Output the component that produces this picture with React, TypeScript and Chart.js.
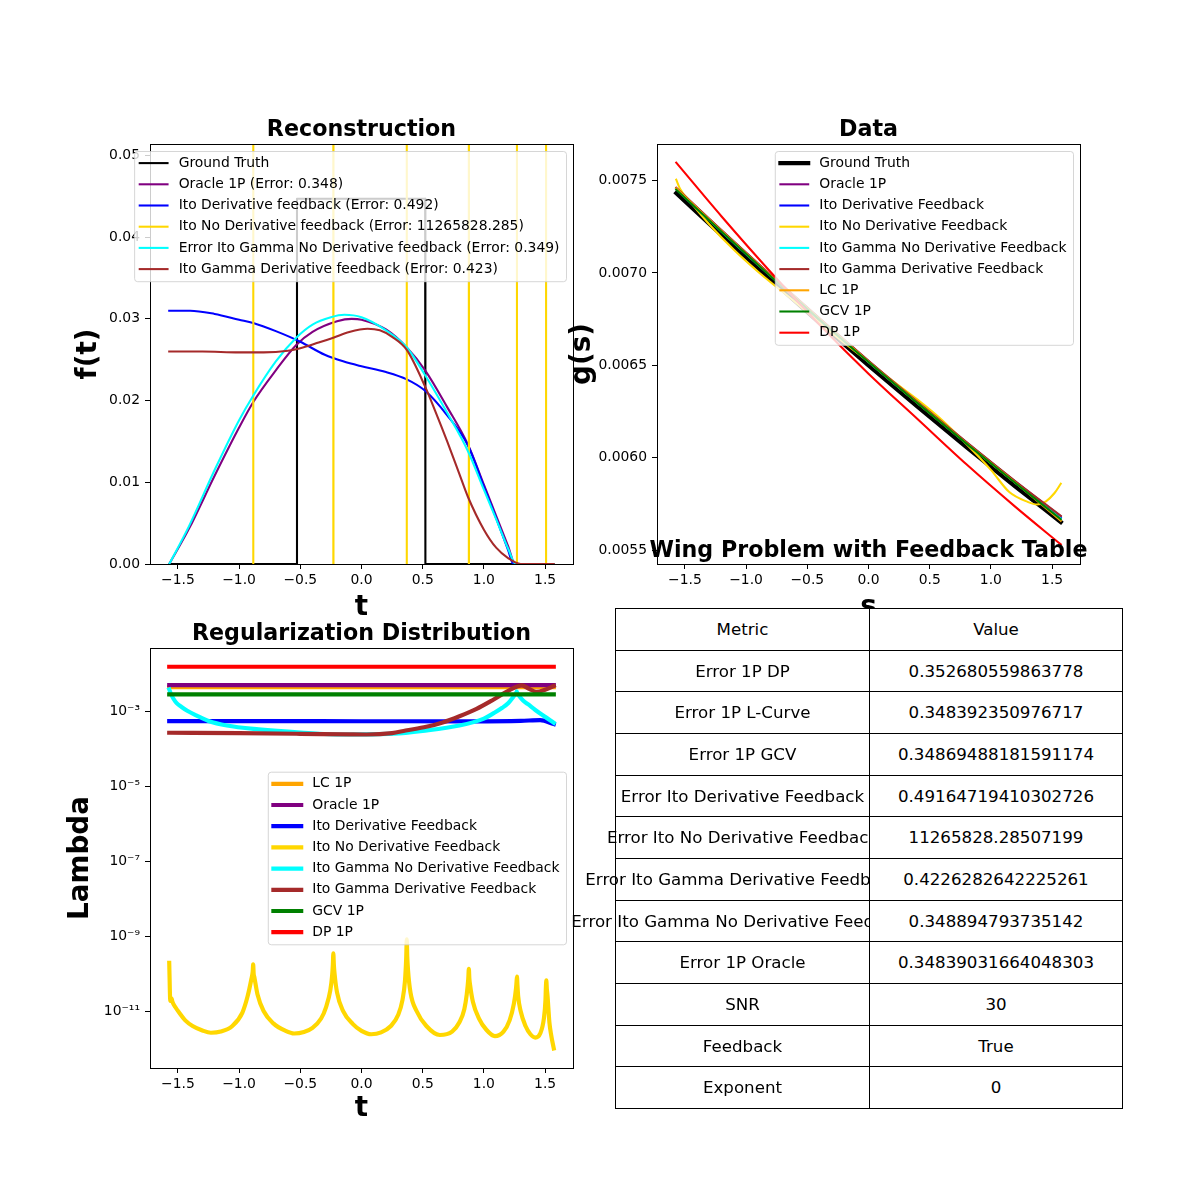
import React, { useEffect, useRef } from "react";
import { Chart, registerables } from "chart.js";

Chart.register(...registerables);

const FONT = "'DejaVu Sans', 'Liberation Sans', sans-serif";
Chart.defaults.font.family = FONT;

// ===================== Reconstruction f(t) =====================
const truthT = [-1.5708, -0.529, -0.527, 0.52, 0.522, 1.5708];
const truthF = [0, 0, 0.0447, 0.0447, 0, 0];

const oracleT = [-1.5708, -1.41, -1.2, -1.0, -0.885, -0.7, -0.533, -0.4, -0.2, -0.08, 0.0, 0.2, 0.37, 0.52, 0.7, 0.87, 1.0, 1.1, 1.2, 1.254, 1.35, 1.5708];
const oracleF = [0, 0.0043, 0.0108, 0.0167, 0.0198, 0.0237, 0.0268, 0.0284, 0.0297, 0.03, 0.0299, 0.0287, 0.0265, 0.0237, 0.0192, 0.0146, 0.0097, 0.0059, 0.0021, 0, 0, 0];

const itoDerivT = [-1.5708, -1.4, -1.2, -1.0, -0.885, -0.7, -0.5, -0.3, -0.15, 0.0, 0.2, 0.37, 0.52, 0.7, 0.87, 1.0, 1.1, 1.2, 1.24, 1.35, 1.5708];
const itoDerivF = [0.031, 0.031, 0.0306, 0.0299, 0.0295, 0.0285, 0.0272, 0.0256, 0.0248, 0.0242, 0.0235, 0.0226, 0.0212, 0.0182, 0.0145, 0.0095, 0.0056, 0.0016, 0, 0, 0];

const itoNoDerivT = [-1.5708, -0.886, -0.884, -0.231, -0.229, 0.368, 0.37, 0.876, 0.878, 1.269, 1.271, 1.507, 1.509, 1.5708];
const itoNoDerivF = [-1, -1, 1, 1, -1, -1, 1, 1, -1, -1, 1, 1, -1, -1];

const gammaNoDerivT = [-1.5708, -1.41, -1.2, -1.0, -0.885, -0.7, -0.533, -0.4, -0.25, -0.14, 0.0, 0.2, 0.37, 0.52, 0.7, 0.87, 1.0, 1.1, 1.2, 1.26, 1.35, 1.5708];
const gammaNoDerivF = [0, 0.0046, 0.0115, 0.0176, 0.0206, 0.0248, 0.0277, 0.0293, 0.0302, 0.0305, 0.0302, 0.0286, 0.0265, 0.0231, 0.0185, 0.0138, 0.0091, 0.0055, 0.0018, 0, 0, 0];

const gammaDerivT = [-1.5708, -1.3, -1.0, -0.8, -0.6, -0.5, -0.35, -0.23, -0.1, 0.05, 0.15, 0.25, 0.37, 0.52, 0.6, 0.7, 0.8, 0.87, 1.0, 1.1, 1.2, 1.3, 1.5708];
const gammaDerivF = [0.026, 0.026, 0.0259, 0.0259, 0.0261, 0.0264, 0.0271, 0.0277, 0.0284, 0.0288, 0.0286, 0.0278, 0.0262, 0.0217, 0.0188, 0.015, 0.011, 0.0082, 0.0042, 0.002, 0.0007, 0, 0];

// ===================== Data g(s) =====================
const dataS = [-1.5708, -1.2, -0.8, -0.4, 0, 0.4, 0.8, 1.2, 1.5708];
const truthG = [0.007431, 0.007204, 0.006964, 0.006729, 0.0065, 0.006277, 0.006058, 0.005845, 0.005653];
const oracleG = [0.007458, 0.007229, 0.006988, 0.006753, 0.006524, 0.006302, 0.006084, 0.005872, 0.005684];
const itoDerivG = [0.007455, 0.007226, 0.006985, 0.00675, 0.006521, 0.006299, 0.00608, 0.005868, 0.005676];
const gammaNoDerivG = [0.007452, 0.007223, 0.006983, 0.006748, 0.006519, 0.006297, 0.006078, 0.005866, 0.005672];
const gammaDerivG = [0.00746, 0.00723, 0.006989, 0.006754, 0.006525, 0.006303, 0.006085, 0.005873, 0.005686];
const lcG = [0.007456, 0.007226, 0.006985, 0.00675, 0.00652, 0.006297, 0.006078, 0.005865, 0.00566];
const gcvG = [0.00745, 0.007222, 0.006982, 0.006747, 0.006518, 0.006296, 0.006077, 0.005864, 0.005668];
const dpG = [0.007596, 0.007305, 0.007005, 0.00672, 0.006455, 0.00621, 0.005965, 0.005735, 0.005532];
const noDerivS = [-1.5708, -1.54, -1.45, -1.3, -1.1, -0.9, -0.6, -0.3, 0, 0.2, 0.4, 0.6, 0.8, 1.0, 1.15, 1.3, 1.375, 1.45, 1.52, 1.5708];
const noDerivG = [0.007504, 0.007455, 0.00738, 0.007262, 0.007125, 0.007005, 0.006843, 0.006675, 0.00652, 0.006415, 0.006315, 0.006205, 0.006075, 0.005935, 0.005815, 0.005762, 0.005748, 0.005765, 0.00581, 0.00586];

// ===================== Regularization lambda(t) =====================
const lambdaEndsT = [-1.5708, 1.5708];
const lcLambda = [0.00457, 0.00457];
const oracleLambda = [0.00518, 0.00518];
const gcvLambda = [0.00292, 0.00292];
const dpLambda = [0.016, 0.016];
const itoDerivLambdaT = [-1.5708, -1.0, 0.0, 0.9, 1.3, 1.46, 1.5708];
const itoDerivLambda = [0.000564, 0.000564, 0.00056, 0.000555, 0.00057, 0.0006, 0.00047];
const gammaDerivLambdaT = [-1.5708, -1.0, -0.5, -0.1, 0.04, 0.25, 0.36, 0.53, 0.67, 0.8, 0.94, 1.08, 1.21, 1.31, 1.37, 1.43, 1.5, 1.5708];
const gammaDerivLambda = [0.000275, 0.000268, 0.000258, 0.000249, 0.000247, 0.00027, 0.000316, 0.000397, 0.000527, 0.00076, 0.0012, 0.00214, 0.0038, 0.0051, 0.0041, 0.0034, 0.0039, 0.0049];
const gammaNoDerivLambdaT = [-1.5708, -1.555, -1.535, -1.51, -1.47, -1.42, -1.35, -1.25, -1.1, -0.84, -0.5, -0.15, 0.26, 0.5, 0.8, 1.0, 1.08, 1.15, 1.2, 1.24, 1.262, 1.268, 1.274, 1.29, 1.32, 1.36, 1.42, 1.49, 1.5708];
const gammaNoDerivLambda = [0.00398, 0.0029, 0.0022, 0.0017, 0.00135, 0.00105, 0.0008, 0.00057, 0.00043, 0.00034, 0.00028, 0.000247, 0.00026, 0.00031, 0.00043, 0.00066, 0.00092, 0.00128, 0.00172, 0.0025, 0.0031, 0.0035, 0.0031, 0.0026, 0.002, 0.0016, 0.00112, 0.00077, 0.00051];
const noDerivLambdaT = [
  -1.5708, -1.562, -1.552, -1.545, -1.52, -1.49, -1.44, -1.38, -1.3, -1.23, -1.15, -1.055, -0.973, -0.93, -0.9, -0.889, -0.885,
  -0.881, -0.875, -0.85, -0.8, -0.72, -0.62, -0.55, -0.47, -0.4, -0.33, -0.29, -0.255, -0.24, -0.234, -0.23,
  -0.226, -0.22, -0.2, -0.15, -0.07, 0.0, 0.08, 0.16, 0.24, 0.3, 0.335, 0.355, 0.365, 0.37,
  0.374, 0.38, 0.4, 0.45, 0.53, 0.64, 0.74, 0.8, 0.84, 0.86, 0.872, 0.877,
  0.881, 0.887, 0.91, 0.96, 1.02, 1.09, 1.16, 1.21, 1.245, 1.262, 1.266, 1.27,
  1.274, 1.28, 1.3, 1.34, 1.38, 1.42, 1.46, 1.49, 1.503, 1.506, 1.51,
  1.514, 1.52, 1.535, 1.55, 1.5708,
];
const noDerivLambda = [
  1.95e-10, 1.86e-11, 2.19e-11, 1.78e-11, 1.26e-11, 9.12e-12, 5.62e-12, 3.98e-12, 3.02e-12, 2.63e-12, 2.82e-12, 3.98e-12, 9.12e-12, 2.51e-11, 7.08e-11, 1.12e-10, 1.78e-10,
  1.0e-10, 7.94e-11, 2.82e-11, 1.0e-11, 4.68e-12, 2.95e-12, 2.51e-12, 2.75e-12, 3.55e-12, 6.31e-12, 1.26e-11, 3.55e-11, 8.91e-11, 1.78e-10, 3.47e-10,
  1.78e-10, 1.0e-10, 3.16e-11, 1.0e-11, 4.47e-12, 2.95e-12, 2.4e-12, 2.69e-12, 3.98e-12, 7.94e-12, 2.0e-11, 6.31e-11, 2.51e-10, 8.32e-10,
  2.82e-10, 1.26e-10, 3.16e-11, 1.0e-11, 3.98e-12, 2.29e-12, 2.82e-12, 5.01e-12, 1.12e-11, 2.82e-11, 7.08e-11, 1.35e-10,
  7.59e-11, 5.01e-11, 1.78e-11, 6.31e-12, 3.16e-12, 2.14e-12, 2.82e-12, 5.62e-12, 1.58e-11, 3.98e-11, 5.62e-11, 8.32e-11,
  5.01e-11, 2.51e-11, 1.0e-11, 3.98e-12, 2.4e-12, 1.95e-12, 2.51e-12, 6.31e-12, 2.0e-11, 3.98e-11, 6.61e-11,
  3.98e-11, 2.51e-11, 5.01e-12, 2.24e-12, 1.0e-12,
];

// ===================== Ticks =====================
const xTicks = [-1.5, -1, -0.5, 0, 0.5, 1, 1.5];
const reconYTicks = [0, 0.01, 0.02, 0.03, 0.04, 0.05];
const dataYTicks = [0.0055, 0.006, 0.0065, 0.007, 0.0075];
const lambdaYTicks = [1e-11, 1e-9, 1e-7, 1e-5, 1e-3];

// ===================== Table =====================
const metricNames = [
  "Error 1P DP",
  "Error 1P L-Curve",
  "Error 1P GCV",
  "Error Ito Derivative Feedback",
  "Error Ito No Derivative Feedback",
  "Error Ito Gamma Derivative Feedback",
  "Error Ito Gamma No Derivative Feedback",
  "Error 1P Oracle",
  "SNR",
  "Feedback",
  "Exponent",
];
const metricValues = [
  "0.352680559863778",
  "0.348392350976717",
  "0.34869488181591174",
  "0.49164719410302726",
  "11265828.28507199",
  "0.4226282642225261",
  "0.348894793735142",
  "0.34839031664048303",
  "30",
  "True",
  "0",
];

// ===================== Helpers =====================
const C = {
  black: "#000000",
  purple: "#800080",
  blue: "#0000ff",
  gold: "#ffd700",
  cyan: "#00ffff",
  brown: "#a52a2a",
  orange: "#ffa500",
  green: "#008000",
  red: "#ff0000",
};
const LW1 = 2.08;
const LW3 = 4.17;

function line(label: string, xs: number[], ys: number[], color: string, width: number, smooth = true): any {
  return {
    label,
    data: xs.map((x, i) => ({ x, y: ys[i] })),
    borderColor: color,
    backgroundColor: color,
    borderWidth: width,
    pointRadius: 0,
    pointHoverRadius: 0,
    fill: false,
    tension: 0,
    cubicInterpolationMode: smooth ? "monotone" : "default",
    borderCapStyle: "square",
    borderJoinStyle: "round",
  };
}

function stack(ds: any[]) {
  return ds.map((d, i) => ({ ...d, order: ds.length - i }));
}

const minus = (s: string) => s.replace("-", "\u2212");
const fmtX = (v: number) => minus(v.toFixed(1));
const SUP: Record<string, string> = { "-": "\u207B", "0": "\u2070", "1": "\u00B9", "2": "\u00B2", "3": "\u00B3", "4": "\u2074", "5": "\u2075", "6": "\u2076", "7": "\u2077", "8": "\u2078", "9": "\u2079" };
const fmtLog = (v: number) => "10" + String(Math.round(Math.log10(v))).split("").map((c) => SUP[c]).join("");

function axis(o: {
  type?: string;
  horizontal: boolean;
  min: number;
  max: number;
  ticks: number[];
  fmt: (v: number) => string;
  title: string;
  fit: number;
  titlePad: number;
  labelPad: number;
}): any {
  return {
    type: o.type ?? "linear",
    position: o.horizontal ? "bottom" : "left",
    min: o.min,
    max: o.max,
    afterBuildTicks: (s: any) => {
      s.ticks = o.ticks.map((v) => ({ value: v }));
    },
    afterFit: (s: any) => {
      if (o.horizontal) s.height = o.fit;
      else s.width = o.fit;
    },
    ticks: {
      color: "#000",
      font: { family: FONT, size: 13.9 },
      padding: o.labelPad,
      maxRotation: 0,
      minRotation: 0,
      autoSkip: false,
      callback: (v: any) => o.fmt(Number(v)),
    },
    grid: { display: true, drawOnChartArea: false, drawTicks: true, tickLength: 5, color: "#000", lineWidth: 1 },
    border: { display: false },
    title: {
      display: true,
      text: o.title,
      color: "#000",
      font: { family: FONT, size: 27.8, weight: "bold", lineHeight: 1 },
      padding: o.horizontal ? { top: 0, bottom: o.titlePad } : { top: o.titlePad, bottom: 0 },
    },
  };
}

function decor(title: string, anchor: "upper" | "center"): any {
  return {
    id: "decor",
    afterDatasetsDraw(chart: any) {
      const { ctx, chartArea: a } = chart;
      ctx.save();
      ctx.strokeStyle = "#000";
      ctx.lineWidth = 1;
      ctx.strokeRect(a.left + 0.5, a.top + 0.5, a.right - a.left, a.bottom - a.top);
      ctx.restore();
    },
    afterDraw(chart: any) {
      const { ctx, chartArea: a } = chart;
      ctx.save();
      // title
      ctx.font = `bold 22.2px ${FONT}`;
      ctx.fillStyle = "#000";
      ctx.textAlign = "center";
      ctx.textBaseline = "alphabetic";
      ctx.fillText(title, (a.left + a.right) / 2, a.top - 8);
      // legend
      const items = chart.data.datasets.map((d: any) => ({ label: d.label, color: d.borderColor, width: d.borderWidth }));
      ctx.font = `13.9px ${FONT}`;
      const maxW = Math.max(...items.map((i: any) => ctx.measureText(i.label).width));
      const w = maxW + 51;
      const h = items.length * 21.2 + 3;
      const right = a.right - 7;
      const left = right - w;
      const top = anchor === "upper" ? a.top + 7 : (a.top + a.bottom) / 2 - h / 2;
      ctx.beginPath();
      if ((ctx as any).roundRect) (ctx as any).roundRect(left + 0.5, top + 0.5, w, h, 3);
      else ctx.rect(left + 0.5, top + 0.5, w, h);
      ctx.fillStyle = "rgba(255,255,255,0.8)";
      ctx.fill();
      ctx.strokeStyle = "rgba(204,204,204,0.8)";
      ctx.lineWidth = 1;
      ctx.stroke();
      items.forEach((it: any, i: number) => {
        const cy = top + 12.1 + 21.2 * i;
        ctx.strokeStyle = it.color;
        ctx.lineWidth = it.width;
        ctx.lineCap = "square";
        ctx.beginPath();
        ctx.moveTo(left + 5.6, cy);
        ctx.lineTo(left + 33.4, cy);
        ctx.stroke();
        ctx.fillStyle = "#000";
        ctx.textAlign = "left";
        ctx.textBaseline = "middle";
        ctx.fillText(it.label, left + 44.5, cy);
      });
      ctx.restore();
    },
  };
}

function baseOptions(padding: any, x: any, y: any): any {
  return {
    responsive: false,
    animation: false,
    devicePixelRatio: 1,
    events: [],
    layout: { padding },
    plugins: { legend: { display: false }, tooltip: { enabled: false }, title: { display: false } },
    scales: { x, y },
  };
}

const XR = 1.7279;

function reconConfig(): any {
  return {
    type: "line",
    data: {
      datasets: stack([
        line("Ground Truth", truthT, truthF, C.black, LW1, false),
        line("Oracle 1P (Error: 0.348)", oracleT, oracleF, C.purple, LW1),
        line("Ito Derivative feedback (Error: 0.492)", itoDerivT, itoDerivF, C.blue, LW1),
        line("Ito No Derivative feedback (Error: 11265828.285)", itoNoDerivT, itoNoDerivF, C.gold, LW1, false),
        line("Error Ito Gamma No Derivative feedback (Error: 0.349)", gammaNoDerivT, gammaNoDerivF, C.cyan, LW1),
        line("Ito Gamma Derivative feedback (Error: 0.423)", gammaDerivT, gammaDerivF, C.brown, LW1),
      ]),
    },
    options: baseOptions(
      { top: 44, right: 17, left: 0, bottom: 0 },
      axis({ horizontal: true, min: -XR, max: XR, ticks: xTicks, fmt: fmtX, title: "t", fit: 66, titlePad: 8, labelPad: 2.7 }),
      axis({ horizontal: false, min: 0, max: 0.0514, ticks: reconYTicks, fmt: (v) => v.toFixed(2), title: "f(t)", fit: 90, titlePad: 15.1, labelPad: 5 })
    ),
    plugins: [decor("Reconstruction", "upper")],
  };
}

function dataConfig(): any {
  return {
    type: "line",
    data: {
      datasets: stack([
        line("Ground Truth", dataS, truthG, C.black, LW3),
        line("Oracle 1P", dataS, oracleG, C.purple, LW1),
        line("Ito Derivative Feedback", dataS, itoDerivG, C.blue, LW1),
        line("Ito No Derivative Feedback", noDerivS, noDerivG, C.gold, LW1),
        line("Ito Gamma No Derivative Feedback", dataS, gammaNoDerivG, C.cyan, LW1),
        line("Ito Gamma Derivative Feedback", dataS, gammaDerivG, C.brown, LW1),
        line("LC 1P", dataS, lcG, C.orange, LW1),
        line("GCV 1P", dataS, gcvG, C.green, LW1),
        line("DP 1P", dataS, dpG, C.red, LW1),
      ]),
    },
    options: baseOptions(
      { top: 44, right: 40, left: 0, bottom: 0 },
      axis({ horizontal: true, min: -XR, max: XR, ticks: xTicks, fmt: fmtX, title: "s", fit: 66, titlePad: 8, labelPad: 2.7 }),
      axis({ horizontal: false, min: 0.005426, max: 0.007697, ticks: dataYTicks, fmt: (v) => v.toFixed(4), title: "g(s)", fit: 107, titlePad: 18.6, labelPad: 5 })
    ),
    plugins: [decor("Data", "upper")],
  };
}

function lambdaConfig(): any {
  return {
    type: "line",
    data: {
      datasets: stack([
        line("LC 1P", lambdaEndsT, lcLambda, C.orange, LW3, false),
        line("Oracle 1P", lambdaEndsT, oracleLambda, C.purple, LW3, false),
        line("Ito Derivative Feedback", itoDerivLambdaT, itoDerivLambda, C.blue, LW3),
        line("Ito No Derivative Feedback", noDerivLambdaT, noDerivLambda, C.gold, LW3),
        line("Ito Gamma No Derivative Feedback", gammaNoDerivLambdaT, gammaNoDerivLambda, C.cyan, LW3),
        line("Ito Gamma Derivative Feedback", gammaDerivLambdaT, gammaDerivLambda, C.brown, LW3),
        line("GCV 1P", lambdaEndsT, gcvLambda, C.green, LW3, false),
        line("DP 1P", lambdaEndsT, dpLambda, C.red, LW3, false),
      ]),
    },
    options: baseOptions(
      { top: 38, right: 27, left: 0, bottom: 0 },
      axis({ horizontal: true, min: -XR, max: XR, ticks: xTicks, fmt: fmtX, title: "t", fit: 72, titlePad: 17, labelPad: 2.7 }),
      axis({ type: "logarithmic", horizontal: false, min: 3.1e-13, max: 0.0508, ticks: lambdaYTicks, fmt: fmtLog, title: "Lambda", fit: 150, titlePad: 67.1, labelPad: 5 })
    ),
    plugins: [decor("Regularization Distribution", "center")],
  };
}

function ChartCanvas(props: { left: number; top: number; width: number; height: number; make: () => any }) {
  const ref = useRef<HTMLCanvasElement | null>(null);
  useEffect(() => {
    if (!ref.current) return;
    const chart = new Chart(ref.current, props.make());
    return () => chart.destroy();
  }, []);
  return (
    <canvas
      ref={ref}
      width={props.width}
      height={props.height}
      style={{ position: "absolute", left: props.left, top: props.top, width: props.width, height: props.height }}
    />
  );
}

function MetricsTable() {
  const rows = [["Metric", "Value"], ...metricNames.map((m, i) => [m, metricValues[i]])];
  const top0 = 608;
  const rowH = 500 / rows.length;
  const colX = [615, 869, 1122];
  return (
    <>
      <div
        style={{
          position: "absolute",
          left: 568.5,
          top: 535.5,
          width: 600,
          textAlign: "center",
          font: `bold 22.2px ${FONT}`,
          lineHeight: "normal",
          whiteSpace: "nowrap",
          color: "#000",
          zIndex: 3,
        }}
      >
        Wing Problem with Feedback Table
      </div>
      {rows.map((r, i) => {
        const y0 = Math.round(top0 + i * rowH);
        const y1 = Math.round(top0 + (i + 1) * rowH);
        return r.map((txt, j) => (
          <div
            key={`${i}-${j}`}
            style={{
              position: "absolute",
              left: colX[j],
              top: y0,
              width: colX[j + 1] - colX[j] + 1,
              height: y1 - y0 + 1,
              boxSizing: "border-box",
              border: "1px solid #000",
              background: "#fff",
              display: "flex",
              alignItems: "center",
              justifyContent: "center",
              whiteSpace: "nowrap",
              font: `16.67px ${FONT}`,
              color: "#000",
              zIndex: j === 0 ? 1 : 2,
            }}
          >
            {txt}
          </div>
        ));
      })}
    </>
  );
}

export default function App() {
  return (
    <div style={{ position: "absolute", left: 0, top: 0, width: 1200, height: 1200, background: "#fff", overflow: "hidden" }}>
      <ChartCanvas left={60} top={100} width={530} height={530} make={reconConfig} />
      <ChartCanvas left={550} top={100} width={570} height={530} make={dataConfig} />
      <ChartCanvas left={0} top={610} width={600} height={530} make={lambdaConfig} />
      <MetricsTable />
    </div>
  );
}
